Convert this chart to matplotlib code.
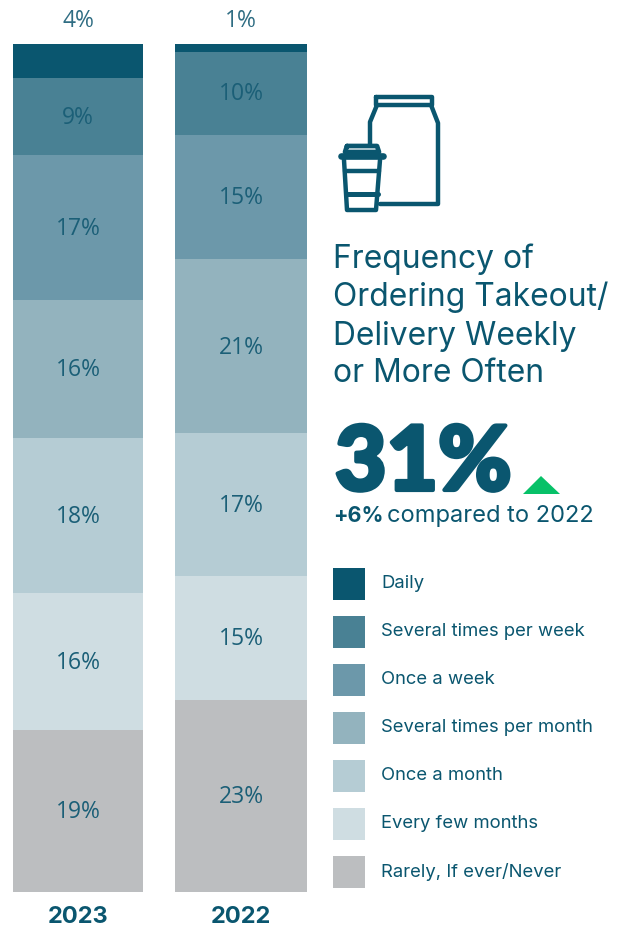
import matplotlib
matplotlib.use("Agg")
import matplotlib.pyplot as plt
import matplotlib.patheffects as pe
from matplotlib.patches import Polygon, Rectangle

W, H = 624, 926

years = ["2023", "2022"]
categories = ["Daily", "Several times per week", "Once a week", "Several times per month",
              "Once a month", "Every few months", "Rarely, If ever/Never"]
colors = ["#0a566f", "#498194", "#6c98aa", "#93b3be", "#b5ccd4", "#cfdde2", "#bcbec0"]
values_2023 = [4.0, 9.1, 17.1, 16.3, 18.2, 16.2, 19.1]
values_2022 = [0.9, 9.8, 14.7, 20.5, 16.8, 14.6, 22.7]
labels_2023 = ["4%", "9%", "17%", "16%", "18%", "16%", "19%"]
labels_2022 = ["1%", "10%", "15%", "21%", "17%", "15%", "23%"]

DARK = "#0a566f"
plt.rcParams["font.family"] = ["Inter", "DejaVu Sans"]

fig = plt.figure(figsize=(W / 100, H / 100), dpi=100)

# bars, stacked from the top down
ax = fig.add_axes([13 / W, 1 - 892 / H, 294 / W, 848 / H])
bottom = [0.0, 0.0]
for i in range(len(categories)):
    row = [values_2023[i], values_2022[i]]
    ax.bar([0, 1], row, width=[0.798, 0.81], bottom=bottom, color=colors[i], linewidth=0)
    for x, v, b, lab in zip([0, 1], row, bottom, [labels_2023[i], labels_2022[i]]):
        # the thin top segments carry their label above the bar
        if i == 0:
            ax.text(x, -2.7, lab, ha="center", va="center", fontsize=16.5,
                    color="#2f6d83", family=["Open Sans", "DejaVu Sans"])
        else:
            ax.text(x, b + v / 2 + 0.15, lab, ha="center", va="center", fontsize=16.5,
                    color="#1b5f77", family=["Open Sans", "DejaVu Sans"])
    bottom = [bottom[0] + row[0], bottom[1] + row[1]]
ax.set_xlim(-0.4, 1.405)
ax.set_ylim(100, 0)
ax.set_xticks([0, 1], years, fontsize=17, fontweight="bold", color=DARK)
ax.tick_params(axis="x", length=0, pad=10)
ax.set_yticks([])
for s in ax.spines.values():
    s.set_visible(False)
ax.patch.set_alpha(0)

# right panel in pixel coordinates
ov = fig.add_axes([0, 0, 1, 1])
ov.set_xlim(0, W)
ov.set_ylim(H, 0)
ov.axis("off")
ov.patch.set_alpha(0)

def stroke(xs, ys, lw=3.2):
    ov.plot(xs, ys, color=DARK, lw=lw, solid_capstyle="round", solid_joinstyle="round")

# bag
stroke([376, 432, 432, 376, 376], [97, 97, 105, 105, 97])
stroke([377, 370, 370], [105, 122, 144])
stroke([431, 438, 438, 380], [105, 123, 204, 204])
# cup
stroke([347, 377, 379, 345, 347], [146, 146, 152, 152, 146], lw=3.4)
stroke([341, 383], [156, 156], lw=4.8)
stroke([344, 347, 376, 380], [160, 210, 210, 160])
stroke([345, 379], [171, 171])
stroke([346, 378], [194, 194], lw=3.6)

for y, line in zip([259, 297, 336, 374],
                   ["Frequency of", "Ordering Takeout/", "Delivery Weekly", "or More Often"]):
    ov.text(333, y, line, fontsize=22.9, color=DARK, va="center", ha="left")

big = ov.text(335, 464, "31%", fontsize=64, color=DARK, va="center", ha="left",
              family=["Lato", "DejaVu Sans"], fontweight="black")
big.set_path_effects([pe.withStroke(linewidth=3, foreground=DARK)])
ov.add_patch(Polygon([[523, 494], [541, 476], [560, 494]], closed=True, color="#07c168", lw=0))

ov.text(333, 516, "+6%", fontsize=15.5, color=DARK, fontweight="bold", va="center", ha="left")
ov.text(387, 516, "compared to 2022", fontsize=17, color=DARK, va="center", ha="left")

# legend
for i, cat in enumerate(categories):
    y = 568 + i * 48
    ov.add_patch(Rectangle((333, y), 32, 32, color=colors[i], lw=0))
    ov.text(381, y + 16, cat, fontsize=13.3, color=DARK, va="center", ha="left")

fig.savefig("out.png", dpi=100)
